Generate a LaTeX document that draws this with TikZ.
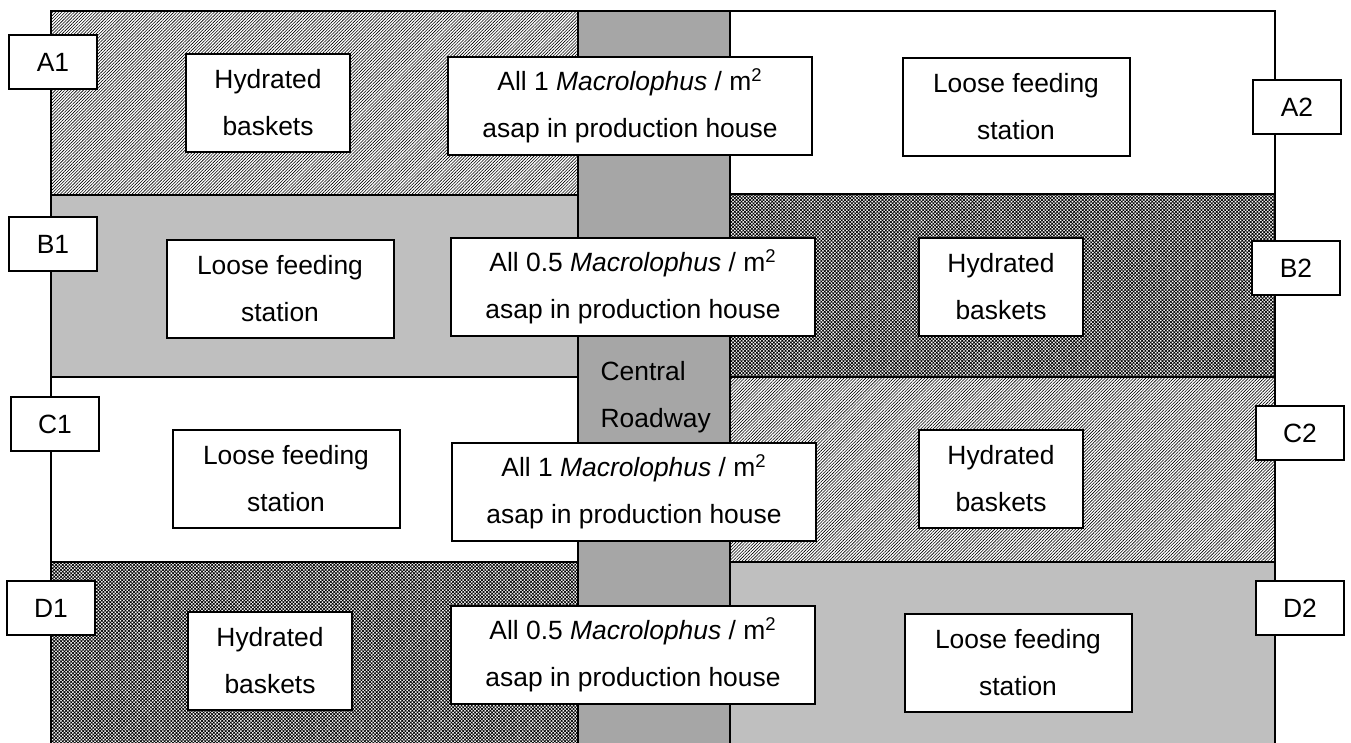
\documentclass[tikz,border=0pt]{standalone}
\usepackage{fontspec}
\setmainfont{Liberation Sans}
\usetikzlibrary{patterns.meta}

\begin{document}
\begin{tikzpicture}[x=0.5pt,y=-0.5pt
  ,line width=1pt
  ,font=\fontsize{13.2}{23.5}\selectfont]
  \tikzstyle{tag}=[draw,fill=white,minimum width=44pt,minimum height=27pt,inner sep=0pt]
  \tikzstyle{note}=[draw,fill=white,align=center,inner sep=0pt,minimum height=49pt]
  \tikzstyle{hydr}=[note,minimum width=82pt]
  \tikzstyle{feed}=[note,minimum width=113.5pt]
  \tikzstyle{dose}=[note,minimum width=182pt]
  \tikzstyle{light}=[pattern={Lines[angle=45,distance=1.1pt,line width=0.3pt]}]
  \tikzstyle{dark}=[pattern={Hatch[angle=45,distance=1.2pt,line width=0.35pt]}]
  \tikzstyle{grey}=[fill=black!25]
  \tikzstyle{road}=[fill=black!35]

  \useasboundingbox (0,0) rectangle (1351,743);
  \fill[white] (0,0) rectangle (1351,743);

  % plots
  \path[light] (51,11) rectangle (578,195);
  \path[grey]  (51,195) rectangle (578,377);
  \path[dark]  (51,562) rectangle (578,746);
  \path[dark]  (730,194) rectangle (1275,377);
  \path[light] (730,377) rectangle (1275,562);
  \path[grey]  (730,562) rectangle (1275,746);
  \path[road]  (578,11) rectangle (730,746);

  \draw (51,746) -- (51,11) -- (1275,11) -- (1275,746);
  \draw (578,11) -- (578,746) (730,11) -- (730,746);
  \draw (51,195) -- (578,195) (51,377) -- (578,377) (51,562) -- (578,562);
  \draw (730,194) -- (1275,194) (730,377) -- (1275,377) (730,562) -- (1275,562);

  \node[anchor=base west,align=left] (road) at (593,428) {Central\\Roadway};

  % row A
  \node[tag] (A1) at (53,62) {A1};
  \node[tag] (A2) at (1297,107) {A2};
  \node[hydr] (hA) at (268,103) {Hydrated\\baskets};
  \node[dose] (dA) at (630,106) {All 1 \textit{Macrolophus} / m\textsuperscript{2}\\asap in production house};
  \node[feed] (fA) at (1016,107) {Loose feeding\\station};

  % row B
  \node[tag] (B1) at (53,244) {B1};
  \node[tag] (B2) at (1296,268) {B2};
  \node[feed] (fB) at (280,289) {Loose feeding\\station};
  \node[dose] (dB) at (633,287) {All 0.5 \textit{Macrolophus} / m\textsuperscript{2}\\asap in production house};
  \node[hydr] (hB) at (1001,287) {Hydrated\\baskets};

  % row C
  \node[tag] (C1) at (55,424) {C1};
  \node[tag] (C2) at (1300,433) {C2};
  \node[feed] (fC) at (286,479) {Loose feeding\\station};
  \node[dose] (dC) at (634,492) {All 1 \textit{Macrolophus} / m\textsuperscript{2}\\asap in production house};
  \node[hydr] (hC) at (1001,479) {Hydrated\\baskets};

  % row D
  \node[tag] (D1) at (51,608) {D1};
  \node[tag] (D2) at (1300,608) {D2};
  \node[hydr] (hD) at (270,661) {Hydrated\\baskets};
  \node[dose] (dD) at (633,655) {All 0.5 \textit{Macrolophus} / m\textsuperscript{2}\\asap in production house};
  \node[feed] (fD) at (1018,663) {Loose feeding\\station};
\end{tikzpicture}
\end{document}
